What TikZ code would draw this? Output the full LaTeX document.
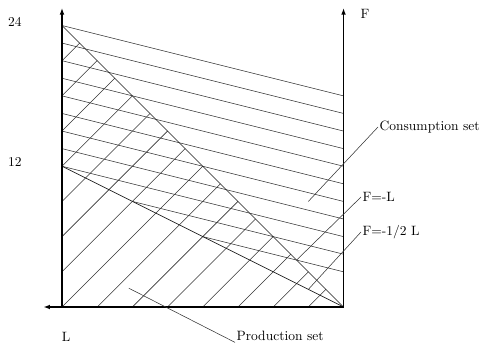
\documentclass[tikz,border=0pt]{standalone}
\usetikzlibrary{arrows.meta}
\begin{document}
\begin{tikzpicture}[x=0.74pt,y=-0.74pt,
  axis/.style={line width=1.3pt,-{Latex[length=5pt,width=3.5pt]}},
  hatch/.style={line width=0.4pt,black!80},
  bound/.style={line width=0.5pt,black!90},
  pointer/.style={line width=0.4pt,black!80},
  lbl/.style={inner sep=1pt,font=\normalsize}]
\useasboundingbox (0,0) rectangle (481,343);
\begin{scope}[shift={(62,307)},x=8.68pt,y=8.68pt]
  \coordinate (BL) at (0,0);
  \coordinate (BR) at (24,0);
  \coordinate (TL) at (0,24);
  \coordinate (ML) at (0,12);
  \coordinate (LT) at (0,25.5);
  \coordinate (RT) at (24,25.5);
  \coordinate (LB) at (-1.6,0);
  % consumption set hatching (clipped above F=-1/2 L)
  \foreach \k in {0,...,10}{
    \pgfmathsetmacro{\cc}{24-1.5*\k}
    \pgfmathsetmacro{\us}{max(0,4*(12-\cc))}
    \draw[hatch] (\us,{\cc-\us/4}) -- (24,{\cc-6});
  }
  % production set hatching (below F=-L)
  \foreach \cc in {21,18,...,-21}{
    \draw[hatch] ({max(0,-\cc)},{max(0,\cc)}) -- ({(24-\cc)/2},{(24+\cc)/2});
  }
  % boundary lines
  \draw[bound] (TL) -- (BR);
  \draw[bound] (ML) -- (BR);
  % pointer targets
  \coordinate (pc) at (21,9);
  \coordinate (pfl) at (20,4);
  \coordinate (pfh) at (21,1.5);
  \coordinate (pp) at (5.7,1.6);
\end{scope}
% axes
\draw[axis] (BL) -- (LT);
\draw[axis] (BR) -- (RT);
\draw[axis] (BR) -- (LB);
% labels
\node[lbl] (t24) at (15,22) {24};
\node[lbl] (t12) at (15,162) {12};
\node[lbl] (tF) at (365,14) {F};
\node[lbl] (tL) at (66,337) {L};
\node[lbl,anchor=west] (cons) at (378,127) {Consumption set};
\node[lbl,anchor=west] (fl) at (361,197) {F=-L};
\node[lbl,anchor=west] (fhl) at (361,232) {F=-1/2 L};
\node[lbl,anchor=west] (prod) at (235,336) {Production set};
% pointers
\draw[pointer] (cons.west) -- (pc);
\draw[pointer] (fl.west) -- (pfl);
\draw[pointer] (fhl.west) -- (pfh);
\draw[pointer] (pp) -- (prod.south west);
\end{tikzpicture}
\end{document}
